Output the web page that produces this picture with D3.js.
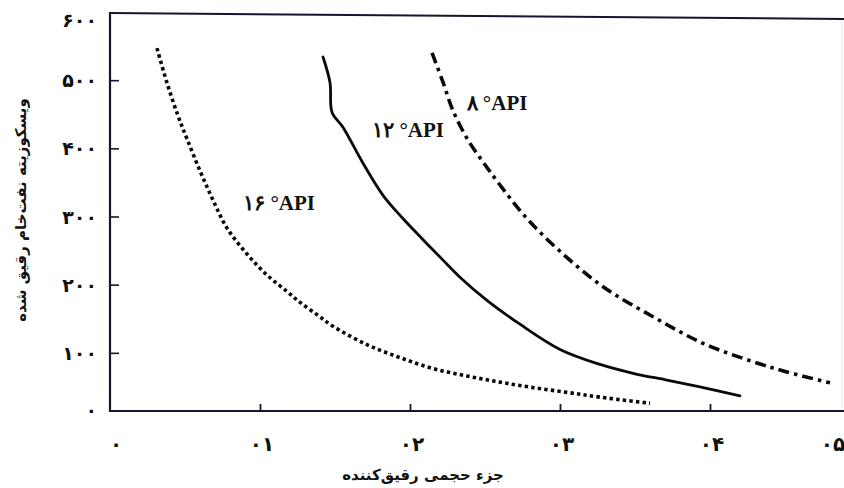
<!DOCTYPE html>
<html><head><meta charset="utf-8">
<script src="https://cdn.jsdelivr.net/npm/d3@7"></script>
<style>
html,body{margin:0;padding:0;background:#fff;}
svg{display:block;}
</style></head>
<body>
<svg id="chart" width="844" height="488"></svg>
<script>
// ---- data ----
const xTicks = [0, 0.1, 0.2, 0.3, 0.4, 0.5];
const xTickLabels = ["۰", "۰۱", "۰۲", "۰۳", "۰۴", "۰۵"];
const yTicks = [100, 200, 300, 400, 500, 600];
const yTickLabels = ["۱۰۰", "۲۰۰", "۳۰۰", "۴۰۰", "۵۰۰", "۶۰۰"];
const yZeroLabel = "۰";

const seriesNames = ["۸ °API", "۱۲ °API", "۱۶ °API"];

const api8X = [0.2147, 0.222, 0.2287, 0.2387, 0.2487, 0.258, 0.278, 0.300, 0.3287, 0.362, 0.3953, 0.4287, 0.4513, 0.480];
const api8Y = [540, 497, 455, 412, 380, 352, 297, 249, 197, 153, 114, 87, 72, 56];

const api12X = [0.142, 0.1467, 0.148, 0.1553, 0.1687, 0.182, 0.1953, 0.2087, 0.222, 0.2333, 0.2513, 0.2733, 0.300, 0.3267, 0.3487, 0.3713, 0.3933, 0.420];
const api12Y = [534, 496, 453, 431, 378, 331, 297, 266, 236, 211, 177, 142, 105, 83, 70, 60, 50, 37];

const api16X = [0.0313, 0.038, 0.0453, 0.0513, 0.060, 0.0687, 0.078, 0.0913, 0.1047, 0.118, 0.1267, 0.138, 0.1487, 0.1713, 0.1933, 0.2153, 0.238, 0.260, 0.282, 0.3047, 0.3267, 0.360];
const api16Y = [547, 496, 448, 414, 367, 324, 283, 245, 214, 190, 174, 156, 139, 112, 93, 77, 66, 57, 49, 42, 35, 26];

// label anchor points (data coords)
const labelX = [0.258, 0.1987, 0.1127];
const labelY = [466, 427, 320];

const xTitle = "جزء حجمی رقیق‌کننده";
const yTitle = "ویسکوزیته نفت‌خام رقیق شده";

// ---- layout ----
const W = 844, H = 488;
const svg = d3.select("#chart");
const x = d3.scaleLinear().domain([0, 0.5]).range([110, 860]);
const y = d3.scaleLinear().domain([0, 600]).range([421, 12]);
const axisY = 411;          // drawn bottom axis line
const ink = "#15152e";
const persianFont = "'DejaVu Sans', sans-serif";

// frame: top line & faint right edge
svg.append("line").attr("x1", x(0)).attr("x2", W).attr("y1", y(600) + 1).attr("y2", y(600) + 7)
  .attr("stroke", ink).attr("stroke-width", 2);
svg.append("line").attr("x1", W - 2).attr("x2", W - 2).attr("y1", y(600) + 8).attr("y2", axisY)
  .attr("stroke", "#e4e4e4").attr("stroke-width", 1);

// y axis
const yAxis = d3.axisRight(y).tickValues(yTicks.slice(0, 5)).tickSize(9).tickFormat("");
const gy = svg.append("g").attr("transform", `translate(${x(0)},0)`).call(yAxis);
gy.select(".domain").remove();
gy.selectAll(".tick line").attr("stroke", ink).attr("stroke-width", 1.6);
svg.append("line").attr("x1", x(0)).attr("x2", x(0)).attr("y1", y(600)).attr("y2", axisY + 1)
  .attr("stroke", ink).attr("stroke-width", 2.2);

// y tick labels
svg.append("g").selectAll("text").data(yTicks).join("text")
  .attr("x", 97).attr("y", d => d === 600 ? y(d) + 8 : y(d))
  .attr("text-anchor", "end").attr("dominant-baseline", "central")
  .style("font-family", persianFont).style("font-weight", "bold").style("font-size", "19px")
  .attr("fill", "#111")
  .text((d, i) => yTickLabels[i]);
svg.append("text").attr("x", 97).attr("y", axisY - 1)
  .attr("text-anchor", "end").attr("dominant-baseline", "central")
  .style("font-family", persianFont).style("font-weight", "bold").style("font-size", "19px")
  .attr("fill", "#111").text(yZeroLabel);

// x axis
const xAxis = d3.axisTop(x).tickValues(xTicks.slice(1, 5)).tickSize(7).tickFormat("");
const gx = svg.append("g").attr("transform", `translate(0,${axisY})`).call(xAxis);
gx.select(".domain").remove();
gx.selectAll(".tick line").attr("stroke", ink).attr("stroke-width", 1.8);
svg.append("line").attr("x1", x(0) - 1).attr("x2", W).attr("y1", axisY).attr("y2", axisY)
  .attr("stroke", ink).attr("stroke-width", 2.2);

// x tick labels
svg.append("g").selectAll("text").data(xTicks).join("text")
  .attr("x", d => Math.min(x(d) + (d === 0 ? 6 : 2), W - 11))
  .attr("y", 444)
  .attr("text-anchor", "middle").attr("dominant-baseline", "central")
  .style("font-family", persianFont).style("font-weight", "bold").style("font-size", "20px")
  .attr("fill", "#111")
  .text((d, i) => xTickLabels[i]);

// titles
svg.append("text").attr("x", 423).attr("y", 475)
  .attr("text-anchor", "middle").attr("dominant-baseline", "central")
  .attr("direction", "rtl")
  .style("font-family", persianFont).style("font-weight", "bold").style("font-size", "15px")
  .attr("fill", "#111").text(xTitle);
svg.append("text").attr("transform", "translate(21,210) rotate(-90)")
  .attr("text-anchor", "middle").attr("dominant-baseline", "central")
  .attr("direction", "rtl")
  .style("font-family", persianFont).style("font-weight", "bold").style("font-size", "15px")
  .attr("fill", "#111").text(yTitle);

// curves
const line = d3.line().x(d => x(d[0])).y(d => y(d[1])).curve(d3.curveCatmullRom.alpha(0.5));
const zip = (a, b) => a.map((v, i) => [v, b[i]]);
const series = [
  { pts: zip(api8X, api8Y), dash: "11 5 3.5 5", width: 3.6, cap: "butt" },
  { pts: zip(api12X, api12Y), dash: null, width: 2.8, cap: "round" },
  { pts: zip(api16X, api16Y), dash: "3.4 3.2", width: 3.6, cap: "butt" }
];
svg.append("g").selectAll("path").data(series).join("path")
  .attr("d", d => line(d.pts))
  .attr("fill", "none").attr("stroke", "#0a0a0a")
  .attr("stroke-width", d => d.width)
  .attr("stroke-linecap", d => d.cap)
  .attr("stroke-dasharray", d => d.dash);

// series labels
svg.append("g").selectAll("text").data(seriesNames).join("text")
  .attr("x", (d, i) => x(labelX[i])).attr("y", (d, i) => y(labelY[i]))
  .attr("text-anchor", "middle").attr("dominant-baseline", "central")
  .attr("direction", "ltr")
  .style("font-family", "'Liberation Serif', 'DejaVu Serif', serif")
  .style("font-weight", "bold").style("font-size", "21px")
  .attr("fill", "#111")
  .text(d => d);
</script>
</body></html>
